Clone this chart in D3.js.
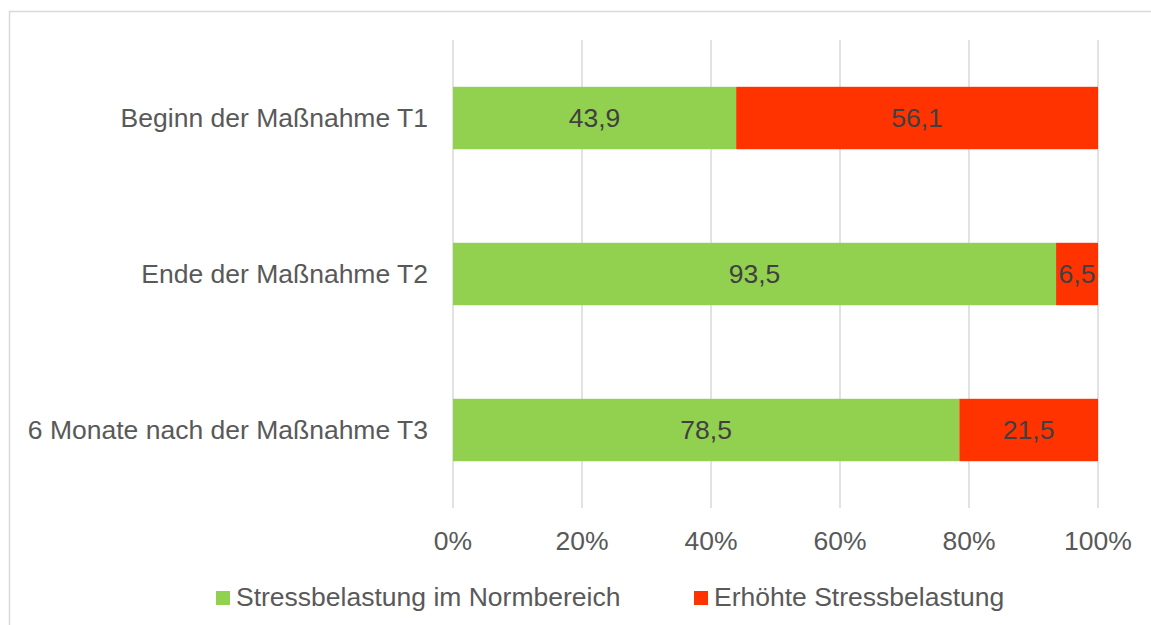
<!DOCTYPE html>
<html>
<head>
<meta charset="utf-8">
<script src="https://cdn.jsdelivr.net/npm/d3@7"></script>
<style>
  body { margin: 0; background: #fff; }
  svg { display: block; font-family: "Liberation Sans", Arial, sans-serif; }
</style>
</head>
<body>
<svg id="chart" width="1151" height="625"></svg>
<script>
const categories = ['Beginn der Maßnahme T1', 'Ende der Maßnahme T2', '6 Monate nach der Maßnahme T3'];
const seriesNames = ['Stressbelastung im Normbereich', 'Erhöhte Stressbelastung'];
const normal = [43.9, 93.5, 78.5];
const elevated = [56.1, 6.5, 21.5];
const xTicks = [0, 0.2, 0.4, 0.6, 0.8, 1];
const colors = ['#92D050', '#FF3300'];

const svg = d3.select('#chart'),
  width = +svg.attr('width'),
  height = +svg.attr('height');

const margin = { top: 40, right: 53, bottom: 117, left: 453 };
const fontSize = 26.5;

// outer frame
svg.append('rect')
  .attr('x', 9.5).attr('y', 11.5)
  .attr('width', width).attr('height', height)
  .attr('fill', 'none').attr('stroke', '#d9d9d9').attr('stroke-width', 1.5);

const x = d3.scaleLinear().domain([0, 1]).range([margin.left, width - margin.right]);
const y = d3.scaleBand().domain(categories)
  .range([margin.top, height - margin.bottom]).paddingInner(0.6).paddingOuter(0.3);

const rows = categories.map((c, i) => ({ cat: c, values: [normal[i], elevated[i]] }));
const stack = d3.stack().keys([0, 1]).value((d, k) => d.values[k] / 100);
const layers = stack(rows);

// gridlines
svg.append('g')
  .selectAll('line')
  .data(xTicks)
  .enter()
  .append('line')
  .attr('x1', d => x(d)).attr('x2', d => x(d))
  .attr('y1', margin.top).attr('y2', height - margin.bottom)
  .attr('stroke', '#d9d9d9').attr('stroke-width', 1.5);

// bars
const layer = svg.append('g')
  .selectAll('g')
  .data(layers)
  .enter()
  .append('g')
  .attr('fill', (d, i) => colors[i]);

layer.selectAll('rect')
  .data(d => d)
  .enter()
  .append('rect')
  .attr('x', d => x(d[0]))
  .attr('width', d => x(d[1]) - x(d[0]))
  .attr('y', d => y(d.data.cat))
  .attr('height', y.bandwidth());

layer.selectAll('text')
  .data((d, i) => d.map(s => ({ s, v: s.data.values[i] })))
  .enter()
  .append('text')
  .attr('x', d => (x(d.s[0]) + x(d.s[1])) / 2)
  .attr('y', d => y(d.s.data.cat) + y.bandwidth() / 2)
  .attr('dy', '0.35em')
  .attr('text-anchor', 'middle')
  .attr('fill', '#404040')
  .attr('font-size', fontSize)
  .text(d => d3.format('.1f')(d.v).replace('.', ','));

// y labels
svg.append('g')
  .selectAll('text')
  .data(categories)
  .enter()
  .append('text')
  .attr('x', margin.left - 25)
  .attr('y', d => y(d) + y.bandwidth() / 2)
  .attr('dy', '0.35em')
  .attr('text-anchor', 'end')
  .attr('fill', '#595959')
  .attr('font-size', fontSize)
  .text(d => d);

// x tick labels
svg.append('g')
  .selectAll('text')
  .data(xTicks)
  .enter()
  .append('text')
  .attr('x', d => x(d))
  .attr('y', 541)
  .attr('dy', '0.35em')
  .attr('text-anchor', 'middle')
  .attr('fill', '#595959')
  .attr('font-size', fontSize)
  .text(d => d3.format('.0%')(d));

// legend
const legendX = [216, 694];
const legend = svg.append('g')
  .selectAll('g')
  .data(seriesNames)
  .enter()
  .append('g')
  .attr('transform', (d, i) => `translate(${legendX[i]},597)`);

legend.append('rect')
  .attr('x', 0).attr('y', -6)
  .attr('width', 14).attr('height', 14)
  .attr('fill', (d, i) => colors[i]);

legend.append('text')
  .attr('x', 20)
  .attr('dy', '0.35em')
  .attr('fill', '#595959')
  .attr('font-size', fontSize)
  .text(d => d);
</script>
</body>
</html>
